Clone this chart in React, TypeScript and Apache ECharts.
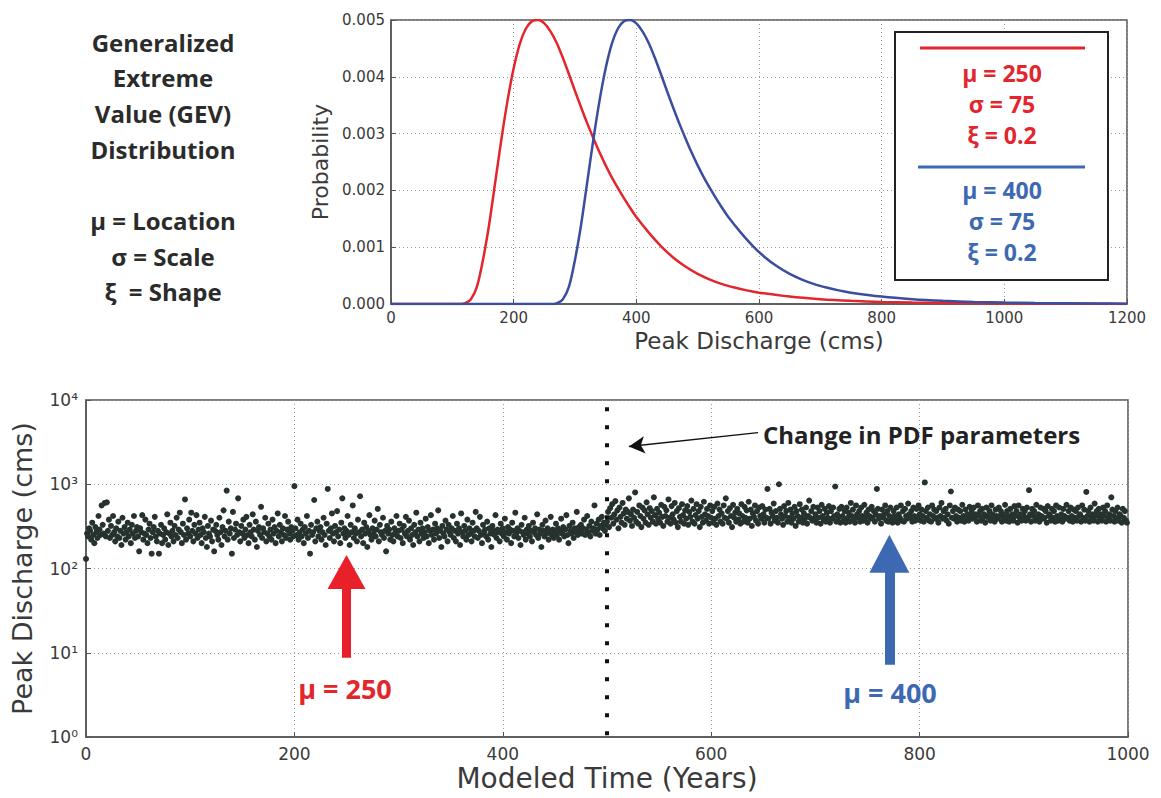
import React, { useEffect, useRef } from "react";
import * as echarts from "echarts";

// ---------- Top panel: GEV probability density curves ----------
const redX = [0, 115, 120, 130, 140, 150, 160, 170, 180, 190, 200, 210, 220, 230, 240, 250, 260, 270, 280, 290, 300, 310, 320, 330, 340, 350, 360, 370, 380, 390, 400, 420, 440, 460, 480, 500, 520, 540, 560, 580, 600, 650, 700, 750, 800, 850, 900, 1000, 1100, 1200];
const redY = [0, 0, 0.00001, 0.00008, 0.0003, 0.00078, 0.0014, 0.00215, 0.0029, 0.00358, 0.00415, 0.00458, 0.00485, 0.00498, 0.005, 0.00494, 0.0048, 0.0046, 0.00434, 0.00405, 0.00375, 0.00346, 0.00318, 0.00292, 0.00267, 0.00244, 0.00223, 0.00204, 0.00186, 0.00169, 0.00153, 0.00126, 0.00102, 0.00082, 0.00066, 0.00053, 0.00043, 0.00035, 0.00029, 0.00024, 0.0002, 0.00013, 0.000085, 0.000056, 0.000037, 0.000025, 0.000017, 0.000008, 0.000004, 0.000002];
const blueX = [0, 265, 270, 280, 290, 300, 310, 320, 330, 340, 350, 360, 370, 380, 390, 400, 410, 420, 430, 440, 450, 460, 470, 480, 490, 500, 510, 520, 530, 540, 550, 570, 590, 610, 630, 650, 670, 690, 710, 730, 750, 800, 850, 900, 950, 1000, 1050, 1150, 1200];
const blueY = [0, 0, 0.00001, 0.00008, 0.0003, 0.00078, 0.0014, 0.00215, 0.0029, 0.00358, 0.00415, 0.00458, 0.00485, 0.00498, 0.005, 0.00494, 0.0048, 0.0046, 0.00434, 0.00405, 0.00375, 0.00346, 0.00318, 0.00292, 0.00267, 0.00244, 0.00223, 0.00204, 0.00186, 0.00169, 0.00153, 0.00126, 0.00102, 0.00082, 0.00066, 0.00053, 0.00043, 0.00035, 0.00029, 0.00024, 0.0002, 0.00013, 0.000085, 0.000056, 0.000037, 0.000025, 0.000017, 0.000008, 0.000006];

const introLines = ["Generalized", "Extreme", "Value (GEV)", "Distribution", "", "μ = Location", "σ = Scale", "ξ  = Shape"];
const redParams = ["μ = 250", "σ = 75", "ξ = 0.2"];
const blueParams = ["μ = 400", "σ = 75", "ξ = 0.2"];

// ---------- Bottom panel: modeled annual peak discharge (cms), years 0..999 ----------
const dischargeFirst = [
  130, 260, 240, 300, 280, 220, 350, 250, 200, 310, 270, 230, 420, 290, 250, 560, 330, 260, 600, 240, 610, 280, 380, 230, 320,
  250, 420, 270, 210, 300, 240, 360, 230, 280, 190, 400, 260, 310, 220, 270, 350, 240, 290, 200, 330, 260, 420, 230, 280, 310,
  240, 160, 300, 270, 430, 220, 260, 380, 250, 200, 290, 340, 230, 150, 270, 310, 410, 240, 210, 280, 150, 260, 330, 200, 250,
  300, 220, 270, 440, 190, 260, 350, 240, 280, 210, 320, 250, 400, 230, 290, 460, 270, 200, 340, 250, 660, 220, 300, 260, 380,
  240, 460, 280, 210, 330, 260, 430, 230, 290, 350, 250, 200, 300, 270, 410, 230, 180, 320, 260, 240, 370, 210, 290, 160, 280,
  330, 250, 220, 400, 270, 190, 310, 490, 240, 280, 840, 220, 360, 260, 300, 150, 470, 230, 290, 340, 250, 680, 270, 210, 320,
  260, 380, 230, 290, 410, 250, 200, 330, 270, 240, 440, 290, 220, 360, 180, 280, 310, 250, 540, 230, 300, 270, 400, 210, 260,
  340, 240, 290, 220, 380, 260, 310, 200, 280, 450, 240, 330, 270, 210, 300, 250, 420, 230, 290, 360, 260, 220, 310, 280, 240,
  950, 300, 250, 380, 220, 270, 340, 240, 290, 200, 310, 260, 420, 230, 280, 150, 330, 250, 270, 650, 210, 300, 360, 240, 280,
  310, 220, 270, 400, 250, 190, 340, 880, 280, 230, 300, 450, 260, 210, 320, 270, 480, 240, 290, 200, 350, 680, 260, 300, 230,
  280, 420, 250, 190, 330, 270, 560, 230, 300, 260, 210, 380, 270, 720, 240, 290, 200, 350, 260, 310, 180, 280, 430, 250, 220,
  300, 260, 370, 240, 290, 510, 210, 330, 270, 250, 400, 230, 280, 160, 320, 260, 290, 220, 360, 250, 210, 300, 270, 420, 240,
  280, 340, 230, 290, 200, 320, 260, 410, 240, 280, 370, 220, 300, 250, 190, 330, 270, 460, 240, 290, 210, 350, 260, 300, 230,
  270, 390, 240, 310, 200, 280, 430, 250, 290, 220, 340, 260, 300, 490, 230, 280, 180, 320, 260, 240, 370, 290, 210, 330, 270,
  250, 300, 420, 230, 280, 210, 340, 260, 300, 190, 450, 270, 240, 320, 280, 220, 380, 250, 300, 260, 210, 350, 280, 240, 470,
  300, 230, 280, 410, 250, 200, 330, 270, 290, 240, 360, 220, 300, 260, 180, 320, 280, 250, 430, 230, 290, 270, 210, 340, 260,
  300, 240, 390, 270, 220, 310, 260, 290, 200, 350, 280, 240, 460, 260, 300, 230, 280, 190, 330, 270, 250, 400, 220, 290, 260,
  320, 240, 280, 210, 350, 270, 300, 250, 440, 230, 290, 260, 180, 330, 280, 240, 370, 260, 300, 220, 280, 410, 250, 290, 230,
  270, 340, 250, 300, 220, 280, 390, 260, 310, 240, 290, 430, 250, 200, 320, 280, 260, 350, 230, 300, 270, 470, 250, 310, 280,
  330, 260, 300, 380, 250, 290, 420, 270, 320, 240, 360, 280, 300, 560, 260, 340, 290, 380, 250, 320, 410, 300, 350, 280, 330,
];
const dischargeSecond = [
  360, 470, 310, 520, 400, 580, 340, 440, 630, 380, 490, 300, 530, 410, 350, 600, 450, 330, 500, 390, 470, 680, 370, 440, 320,
  500, 400, 800, 360, 470, 340, 560, 420, 310, 530, 390, 490, 350, 610, 440, 330, 520, 400, 480, 360, 700, 430, 340, 510, 390,
  460, 350, 570, 410, 320, 540, 420, 490, 360, 660, 400, 340, 550, 440, 380, 600, 350, 480, 310, 520, 410, 360, 580, 430, 340,
  490, 390, 550, 330, 470, 410, 640, 360, 510, 340, 430, 580, 390, 480, 310, 540, 410, 350, 620, 440, 370, 510, 420, 340, 560,
  400, 480, 350, 540, 390, 330, 590, 420, 500, 360, 450, 340, 560, 400, 680, 390, 480, 350, 520, 420, 310, 570, 400, 460, 360,
  510, 380, 450, 340, 580, 420, 360, 540, 400, 490, 350, 620, 390, 500, 320, 450, 410, 560, 370, 480, 340, 530, 420, 390, 550,
  440, 350, 500, 400, 880, 390, 510, 340, 460, 420, 590, 370, 480, 400, 350, 1000, 510, 440, 390, 330, 550, 420, 480, 360, 600,
  400, 500, 350, 450, 390, 540, 320, 480, 420, 360, 580, 400, 500, 350, 450, 390, 530, 340, 420, 640, 400, 480, 370, 540, 390,
  440, 350, 530, 400, 480, 340, 570, 420, 380, 510, 360, 460, 400, 550, 350, 480, 390, 530, 420, 940, 360, 440, 400, 510, 350,
  540, 420, 370, 480, 350, 530, 400, 460, 360, 600, 420, 500, 390, 350, 560, 440, 400, 480, 360, 530, 420, 370, 570, 400, 460,
  350, 500, 420, 390, 540, 400, 480, 360, 440, 880, 510, 390, 420, 340, 500, 400, 440, 560, 370, 480, 360, 420, 530, 400, 350,
  480, 420, 370, 530, 350, 440, 400, 560, 370, 480, 360, 510, 420, 390, 590, 440, 400, 480, 360, 530, 420, 370, 510, 400, 560,
  440, 370, 500, 420, 360, 1050, 480, 400, 530, 370, 440, 360, 560, 420, 500, 390, 480, 400, 350, 530, 420, 600, 390, 480, 400,
  510, 370, 440, 340, 560, 820, 400, 480, 390, 530, 420, 360, 500, 400, 480, 370, 570, 420, 360, 500, 400, 440, 370, 540, 420,
  480, 390, 530, 400, 440, 360, 560, 420, 480, 370, 510, 400, 440, 350, 530, 420, 400, 480, 370, 560, 440, 400, 360, 500, 420,
  390, 530, 420, 480, 360, 440, 400, 570, 370, 480, 420, 360, 510, 400, 440, 370, 550, 420, 480, 350, 560, 400, 440, 370, 510,
  420, 480, 370, 530, 400, 850, 440, 360, 510, 420, 480, 370, 570, 400, 440, 360, 530, 420, 390, 510, 400, 480, 350, 550, 420,
  440, 370, 510, 400, 480, 360, 560, 420, 370, 530, 400, 440, 360, 510, 420, 390, 570, 400, 480, 370, 530, 420, 360, 500, 400,
  480, 370, 530, 420, 440, 360, 560, 400, 500, 370, 810, 420, 480, 360, 530, 400, 440, 370, 590, 420, 480, 360, 510, 400, 440,
  370, 530, 420, 480, 360, 560, 400, 440, 370, 700, 500, 420, 360, 480, 400, 530, 370, 440, 420, 350, 510, 400, 480, 370, 350,
];

const changeYear = 500;
const superDigits = ["⁰", "¹", "²", "³", "⁴", "⁵"];

const RED = "#e3262d";
const CURVE_BLUE = "#3a4d9e";
const BLUE = "#3d69b3";
const TXT = "#2b2b2b";
const TICK = "#3a3a3a";
const BOLD_FONT = "'Open Sans', 'Noto Sans', sans-serif";
const AXIS_FONT = "'DejaVu Sans', sans-serif";

export default function App() {
  const ref = useRef<HTMLDivElement>(null);

  useEffect(() => {
    if (!ref.current) return;
    const chart = echarts.init(ref.current, null, { renderer: "svg" });

    const redData = redX.map((x, i) => [x, redY[i]]);
    const blueData = blueX.map((x, i) => [x, blueY[i]]);
    const discharge = [...dischargeFirst, ...dischargeSecond];
    const scatterData = discharge.map((v, i) => [i, v]);

    const axisLineStyle = { show: true, lineStyle: { color: "#555", width: 1.5 } };
    const splitStyle = { show: true, lineStyle: { color: "#9a9a9a", width: 1, type: [1, 3] as any } };
    const tickStyle = { show: true, inside: true, length: 5, lineStyle: { color: "#555" } };
    const plain = (v: number) => String(v);

    const graphics: any[] = [];
    introLines.forEach((t, i) => {
      if (!t) return;
      graphics.push({
        type: "text",
        x: 163,
        y: 42 + i * 35.7,
        style: { text: t, fill: TXT, fontSize: 24, fontWeight: "bold", fontFamily: BOLD_FONT, align: "center", verticalAlign: "middle" },
      });
    });
    // legend box
    graphics.push({
      type: "rect",
      shape: { x: 895, y: 32, width: 213, height: 248 },
      style: { fill: "#ffffff", stroke: "#222", lineWidth: 2 },
      z: 50,
    });
    graphics.push({ type: "line", shape: { x1: 920, y1: 48, x2: 1085, y2: 48 }, style: { stroke: RED, lineWidth: 3 }, z: 51 });
    graphics.push({ type: "line", shape: { x1: 918, y1: 167, x2: 1085, y2: 167 }, style: { stroke: BLUE, lineWidth: 3 }, z: 51 });
    redParams.forEach((t, i) => {
      graphics.push({
        type: "text", x: 1002, y: 73 + i * 31, z: 51,
        style: { text: t, fill: RED, fontSize: 23, fontWeight: "bold", fontFamily: BOLD_FONT, align: "center", verticalAlign: "middle" },
      });
    });
    blueParams.forEach((t, i) => {
      graphics.push({
        type: "text", x: 1002, y: 190 + i * 31, z: 51,
        style: { text: t, fill: BLUE, fontSize: 23, fontWeight: "bold", fontFamily: BOLD_FONT, align: "center", verticalAlign: "middle" },
      });
    });
    // bottom annotations
    graphics.push({
      type: "text", x: 763, y: 434, z: 51,
      style: { text: "Change in PDF parameters", fill: "#222", fontSize: 24, fontWeight: "bold", fontFamily: BOLD_FONT, align: "left", verticalAlign: "middle" },
    });
    graphics.push({
      type: "text", x: 345, y: 688, z: 51,
      style: { text: "μ = 250", fill: RED, fontSize: 27, fontWeight: "bold", fontFamily: BOLD_FONT, align: "center", verticalAlign: "middle" },
    });
    graphics.push({
      type: "text", x: 890, y: 692, z: 51,
      style: { text: "μ = 400", fill: BLUE, fontSize: 27, fontWeight: "bold", fontFamily: BOLD_FONT, align: "center", verticalAlign: "middle" },
    });

    chart.setOption({
      animation: false,
      backgroundColor: "#ffffff",
      grid: [
        { left: 391, top: 20, width: 736, height: 284, show: true, borderColor: "#555", borderWidth: 1.5, backgroundColor: "transparent" },
        { left: 86, top: 400, width: 1042, height: 337, show: true, borderColor: "#555", borderWidth: 1.5, backgroundColor: "transparent" },
      ],
      xAxis: [
        {
          type: "value", gridIndex: 0, min: 0, max: 1200, interval: 200,
          axisLine: axisLineStyle,
          axisTick: tickStyle,
          axisLabel: { color: TICK, fontSize: 15, fontFamily: AXIS_FONT, margin: 6, formatter: plain },
          splitLine: splitStyle,
          name: "Peak Discharge (cms)", nameLocation: "middle", nameGap: 25,
          nameTextStyle: { color: TICK, fontSize: 23, fontFamily: AXIS_FONT },
        },
        {
          type: "value", gridIndex: 1, min: 0, max: 1000, interval: 200,
          axisLine: axisLineStyle,
          axisTick: tickStyle,
          axisLabel: { color: TICK, fontSize: 17, fontFamily: AXIS_FONT, margin: 8, formatter: plain },
          splitLine: splitStyle,
          name: "Modeled Time (Years)", nameLocation: "middle", nameGap: 27,
          nameTextStyle: { color: TICK, fontSize: 28, fontFamily: AXIS_FONT },
        },
      ],
      yAxis: [
        {
          type: "value", gridIndex: 0, min: 0, max: 0.005, interval: 0.001,
          axisLine: axisLineStyle,
          axisTick: tickStyle,
          axisLabel: { color: TICK, fontSize: 15, fontFamily: AXIS_FONT, margin: 6, formatter: (v: number) => v.toFixed(3) },
          splitLine: splitStyle,
          name: "Probability", nameLocation: "middle", nameGap: 57,
          nameTextStyle: { color: TICK, fontSize: 22, fontFamily: AXIS_FONT },
        },
        {
          type: "log", logBase: 10, gridIndex: 1, min: 1, max: 10000,
          axisLine: axisLineStyle,
          axisTick: tickStyle,
          axisLabel: {
            color: TICK, fontSize: 17, fontFamily: AXIS_FONT, margin: 8,
            formatter: (v: number) => "10" + superDigits[Math.round(Math.log10(v))],
          },
          splitLine: splitStyle,
          name: "Peak Discharge (cms)", nameLocation: "middle", nameGap: 50,
          nameTextStyle: { color: TICK, fontSize: 27, fontFamily: AXIS_FONT },
        },
      ],
      series: [
        {
          type: "line", xAxisIndex: 0, yAxisIndex: 0, data: redData, smooth: 0.3,
          showSymbol: false, lineStyle: { color: RED, width: 2.5 }, z: 3, clip: true,
        },
        {
          type: "line", xAxisIndex: 0, yAxisIndex: 0, data: blueData, smooth: 0.3,
          showSymbol: false, lineStyle: { color: CURVE_BLUE, width: 2.5 }, z: 3, clip: true,
        },
        {
          type: "scatter", xAxisIndex: 1, yAxisIndex: 1, data: scatterData,
          symbolSize: 6, itemStyle: { color: "#25322e", opacity: 1 }, z: 3,
          markLine: {
            silent: true, animation: false, label: { show: false }, z: 4,
            data: [
              [
                { coord: [changeYear, 1.05], symbol: "none", lineStyle: { color: "#111", width: 4, type: [4, 14] } },
                { coord: [changeYear, 9000], symbol: "none" },
              ],
              [
                { coord: [250, 8.7], symbol: "none", lineStyle: { color: "#e8202a", width: 9, type: "solid" } },
                { coord: [250, 91], symbol: "triangle", symbolSize: [38, 34] },
              ],
              [
                { coord: [771, 7.2], symbol: "none", lineStyle: { color: BLUE, width: 10, type: "solid" } },
                { coord: [771, 150], symbol: "triangle", symbolSize: [40, 38] },
              ],
              [
                { coord: [645, 4100], symbol: "none", lineStyle: { color: "#111", width: 1.5, type: "solid" } },
                { coord: [521, 2800], symbol: "arrow", symbolSize: [13, 16] },
              ],
            ],
          },
        },
      ],
      graphic: graphics,
    });

    return () => chart.dispose();
  }, []);

  return <div ref={ref} style={{ position: "fixed", left: 0, top: 0, width: 1161, height: 798 }} />;
}
